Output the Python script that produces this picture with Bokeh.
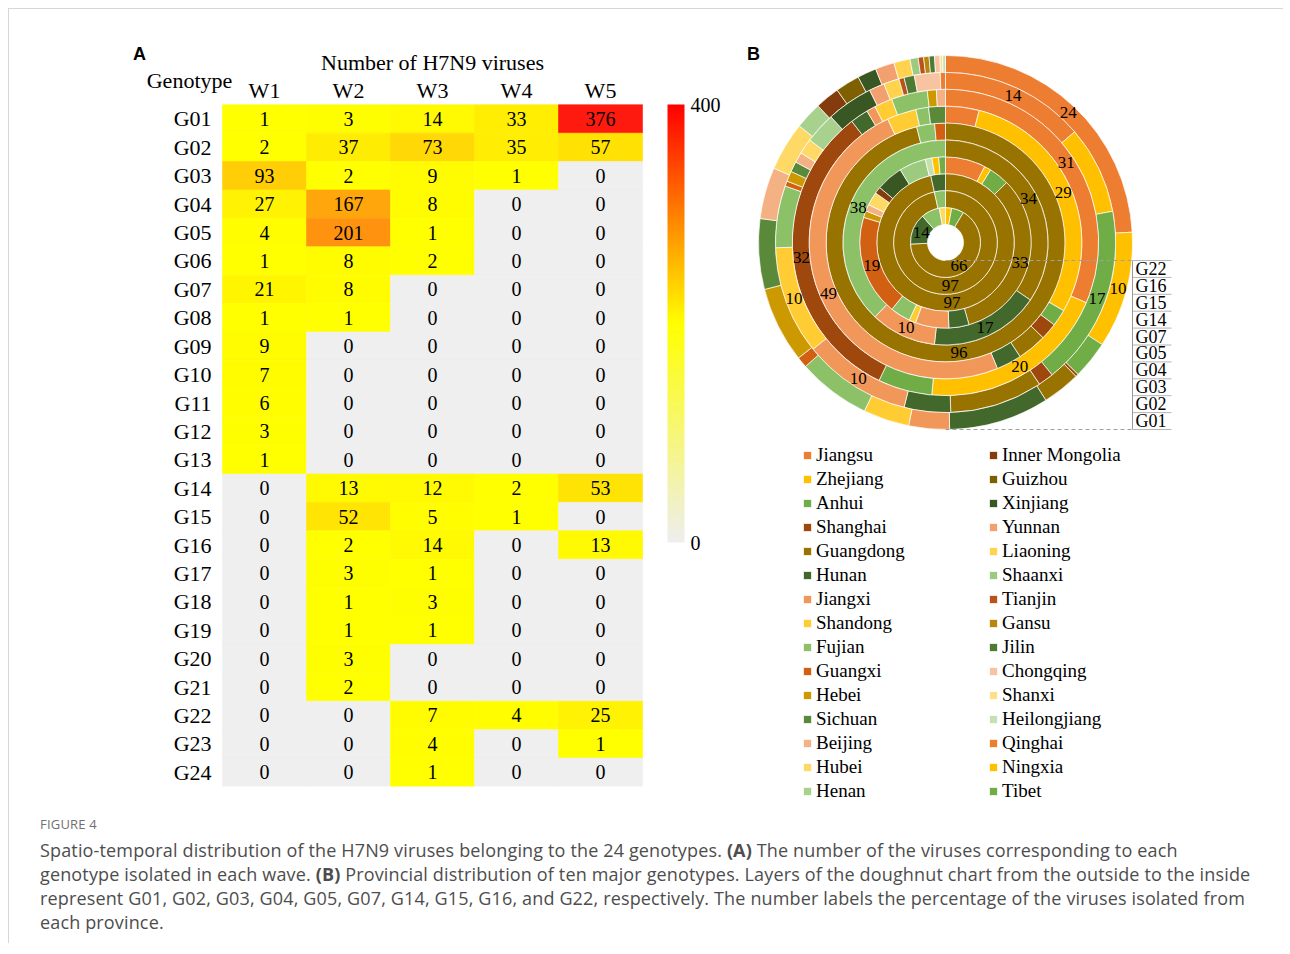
import numpy as np
from bokeh.plotting import figure
from bokeh.models import (ColumnDataSource, FactorRange, LinearColorMapper, ColorBar, FixedTicker,
                          Label, Legend, LegendItem, Range1d, Div)
from bokeh.layouts import row, column
from bokeh.transform import linear_cmap
from bokeh.core.properties import value
from bokeh.embed import file_html
from bokeh.resources import INLINE

SERIF = "Liberation Serif"

# ---------------- Panel A data ----------------
waves = ["W1", "W2", "W3", "W4", "W5"]
genotypes = [f"G{i:02d}" for i in range(1, 25)]
w1 = [1, 2, 93, 27, 4, 1, 21, 1, 9, 7, 6, 3, 1, 0, 0, 0, 0, 0, 0, 0, 0, 0, 0, 0]
w2 = [3, 37, 2, 167, 201, 8, 8, 1, 0, 0, 0, 0, 0, 13, 52, 2, 3, 1, 1, 3, 2, 0, 0, 0]
w3 = [14, 73, 9, 8, 1, 2, 0, 0, 0, 0, 0, 0, 0, 12, 5, 14, 1, 3, 1, 0, 0, 7, 4, 1]
w4 = [33, 35, 1, 0, 0, 0, 0, 0, 0, 0, 0, 0, 0, 2, 1, 0, 0, 0, 0, 0, 0, 4, 0, 0]
w5 = [376, 57, 0, 0, 0, 0, 0, 0, 0, 0, 0, 0, 0, 53, 0, 13, 0, 0, 0, 0, 0, 25, 1, 0]
bar_ticks = [0, 400]

# ---------------- Panel B data ----------------
provinces = ["Jiangsu", "Zhejiang", "Anhui", "Shanghai", "Guangdong", "Hunan", "Jiangxi",
             "Shandong", "Fujian", "Guangxi", "Hebei", "Sichuan", "Beijing", "Hubei", "Henan",
             "Inner Mongolia", "Guizhou", "Xinjiang", "Yunnan", "Liaoning", "Shaanxi", "Tianjin",
             "Gansu", "Jilin", "Chongqing", "Shanxi", "Heilongjiang", "Qinghai", "Ningxia", "Tibet"]
prov_colors = ["#ED7D31", "#FFC000", "#70AD47", "#9E480E", "#997300", "#43682B", "#F1975A",
               "#FFCD33", "#8CC168", "#D26012", "#CC9A00", "#5A8A39", "#F4B183", "#FFD966", "#A9D18E",
               "#843C0C", "#7F6000", "#385723", "#F3A070", "#FFD34D", "#9CCB80", "#B9531A",
               "#B8860B", "#4E7A32", "#F7C3A0", "#FFE08A", "#C5E0B4", "#ED7D31", "#FFC000", "#70AD47"]
ring_names = ["G01", "G02", "G03", "G04", "G05", "G07", "G14", "G15", "G16", "G22"]
#            Js  Zj  Ah Sh  Gd  Hn  Jx  Sd  Fj Gx  Hb  Sc  Bj  Hu  He IM Gz Xj Yn Ln Sx Tj Gs Jl Cq Sx Hl Qh Nx Tb
g01 = [103, 43, 14, 1, 14, 37, 15, 17, 27, 4, 28, 26, 19, 18, 10, 9, 9, 7, 7, 6, 3, 2, 2, 2, 2, 1, 1, 0, 0, 0]
g02 = [28, 17, 35, 3, 18, 9, 21, 21, 12, 1, 2, 2, 2, 3, 6, 0, 0, 9, 3, 3, 0, 1, 0, 2, 5, 0, 0, 1, 0, 0]
g03 = [33, 21, 6, 34, 0, 2, 1, 2, 4, 0, 1, 0, 1, 0, 0, 0, 0, 0, 0, 0, 0, 0, 0, 0, 0, 0, 0, 0, 0, 0]
g04 = [8, 59, 4, 4, 7, 6, 99, 7, 3, 0, 0, 4, 0, 0, 0, 0, 0, 0, 0, 0, 0, 0, 0, 0, 0, 0, 0, 0, 0, 0]
g05 = [0, 0, 0, 0, 198, 0, 0, 0, 5, 3, 0, 0, 0, 0, 0, 0, 0, 0, 0, 0, 0, 0, 0, 0, 0, 0, 0, 0, 0, 0]
g07 = [0, 0, 0, 0, 10, 5, 3, 0, 11, 0, 0, 0, 0, 0, 0, 0, 0, 0, 0, 0, 0, 0, 0, 0, 0, 0, 0, 0, 0, 0]
g14 = [6, 1, 3, 0, 26, 3, 5, 1, 3, 15, 1, 0, 1, 2, 0, 1, 0, 4, 0, 0, 4, 0, 0, 0, 0, 0, 1, 0, 1, 1]
g15 = [0, 0, 0, 0, 56, 2, 0, 0, 0, 0, 0, 0, 0, 0, 0, 0, 0, 0, 0, 0, 0, 0, 0, 0, 0, 0, 0, 0, 0, 0]
g16 = [0, 0, 0, 0, 28, 0, 0, 0, 1, 0, 0, 0, 0, 0, 0, 0, 0, 0, 0, 0, 0, 0, 0, 0, 0, 0, 0, 0, 0, 0]
g22 = [0, 1, 2, 0, 23, 5, 0, 0, 3, 0, 0, 0, 0, 1, 0, 0, 0, 0, 0, 0, 0, 0, 0, 0, 0, 0, 0, 0, 0, 0]
rings = [g01, g02, g03, g04, g05, g07, g14, g15, g16, g22]


def ramp(stops, n=256):
    def rgb(h):
        h = h.lstrip("#")
        return [int(h[i:i + 2], 16) for i in (0, 2, 4)]
    out = []
    for k in range(n):
        t = k / (n - 1)
        for (t0, c0), (t1, c1) in zip(stops[:-1], stops[1:]):
            if t0 <= t <= t1:
                f = (t - t0) / (t1 - t0) if t1 > t0 else 0
                a, b = rgb(c0), rgb(c1)
                c = [round(a[i] + (b[i] - a[i]) * f) for i in range(3)]
                out.append("#%02X%02X%02X" % tuple(c))
                break
    return out


# ================= Panel A: heatmap =================
xs, ys, vals = [], [], []
for w, col in zip(waves, [w1, w2, w3, w4, w5]):
    for g, v in zip(genotypes, col):
        xs.append(w)
        ys.append(g)
        vals.append(v)
src = ColumnDataSource(dict(wave=xs, geno=ys, count=vals, label=[str(v) for v in vals]))

# two blank columns on the left (row labels) and one on the right (colour bar),
# three blank rows on top (column header, title)
x_factors = ["lab1", "lab2"] + waves + ["bar"]
y_factors = genotypes[::-1] + ["hdr", "ttl", "top"]
pa = figure(width=732, height=800, x_range=FactorRange(*x_factors), y_range=FactorRange(*y_factors),
            x_axis_type=None, y_axis_type=None, title=None, toolbar_location=None,
            output_backend="svg", min_border_left=45, min_border_right=15, min_border_top=10,
            min_border_bottom=23)
pa.outline_line_color = None
pa.grid.visible = False
cell_cmap = linear_cmap("count", ramp([(0, "#FFFF00"), (0.55, "#FF9010"), (1, "#FF1A10")]),
                        low=1, high=376, low_color="#EFEFEF")
pa.rect("wave", "geno", 1, 1, source=src, fill_color=cell_cmap, line_color=cell_cmap, line_width=0.6)
pa.text("wave", "geno", text="label", source=src, text_align="center", text_baseline="middle",
        text_font=value(SERIF), text_font_size="20px", text_color="black")

# column header (W1..W5) and row header (G01..G24)
pa.text(x=waves, y=["hdr"] * len(waves), text=waves, text_align="center", text_baseline="middle",
        text_font=value(SERIF), text_font_size="22px", text_color="black")
pa.text(x=[1.87] * len(genotypes), y=genotypes, text=genotypes, text_align="right",
        text_baseline="middle", text_font=value(SERIF), text_font_size="22px", text_color="black")
pa.text(x=["W3"], y=["ttl"], text=["Number of H7N9 viruses"], text_align="center",
        text_baseline="middle", text_font=value(SERIF), text_font_size="22px", text_color="black")
pa.text(x=[1.607], y=[24.85], text=["Genotype"], text_align="center", text_baseline="middle",
        text_font=value(SERIF), text_font_size="22px", text_color="black")
pa.text(x=[1.012], y=[25.79], text=["A"], text_align="center", text_baseline="middle",
        text_font=value("Liberation Sans"), text_font_style="bold", text_font_size="18px",
        text_color="black")

bar_mapper = LinearColorMapper(palette=ramp([(0, "#EEEEEE"), (0.5, "#FFFF00"), (1, "#FF0000")]),
                               low=bar_ticks[0], high=bar_ticks[-1])
cb = ColorBar(color_mapper=bar_mapper, width=17, height=438, ticker=FixedTicker(ticks=bar_ticks),
              major_tick_line_color=None, minor_tick_line_color=None, bar_line_color=None,
              padding=0, margin=0, label_standoff=6, location=(613, 244),
              major_label_text_font=SERIF, major_label_text_font_size="20px",
              major_label_text_color="black", background_fill_alpha=0, border_line_color=None)
pa.add_layout(cb)

# ================= Panel B: doughnut =================
pb = figure(width=542, height=800, x_range=Range1d(-204, 338), y_range=Range1d(-567, 233),
            x_axis_type=None, y_axis_type=None, toolbar_location=None, output_backend="svg",
            min_border=0)
pb.outline_line_color = None
pb.grid.visible = False
for p_ in (pa, pb):
    try:
        p_.frame_align = False
    except Exception:
        pass

hole, outer = 18.0, 187.0
rw = (outer - hole) / len(rings)
per_prov = {p: dict(inner=[], outer=[], start=[], end=[]) for p in provinces}
lab = dict(x=[], y=[], text=[])
for i, counts in enumerate(rings):
    tot = float(sum(counts))
    r_out = outer - i * rw
    r_in = r_out - rw
    cum = 0
    for j, c in enumerate(counts):
        if c == 0:
            continue
        a0 = cum / tot * 2 * np.pi
        a1 = (cum + c) / tot * 2 * np.pi
        cum += c
        d = per_prov[provinces[j]]
        d["inner"].append(r_in)
        d["outer"].append(r_out)
        d["start"].append(np.pi / 2 - a0)
        d["end"].append(np.pi / 2 - a1)
        pct = round(100 * c / tot)
        if pct >= 10:
            am = (a0 + a1) / 2
            rm = (r_in + r_out) / 2
            lab["x"].append(rm * np.sin(am))
            lab["y"].append(rm * np.cos(am))
            lab["text"].append(str(pct))

renderers = {}
for p, col in zip(provinces, prov_colors):
    r = pb.annular_wedge(x=0, y=0, inner_radius="inner", outer_radius="outer",
                         start_angle="start", end_angle="end", direction="clock",
                         source=ColumnDataSource(per_prov[p]), fill_color=col,
                         line_color="#FFFFFF", line_width=0.7)
    renderers[p] = r

pb.text("x", "y", text="text", source=ColumnDataSource(lab), text_align="center",
        text_baseline="middle", text_font=value(SERIF), text_font_size="17px", text_color="black")

# ring guide + genotype box
bounds = [outer - k * rw for k in range(len(rings) + 1)]
pb.segment(x0=[0, 0], y0=[-hole, -outer], x1=[187, 187], y1=[-hole, -outer],
           line_color="#A0A0A0", line_dash="4 3", line_width=1)
pb.segment(x0=[187] * len(bounds), y0=[-b for b in bounds], x1=[226] * len(bounds),
           y1=[-b for b in bounds], line_color="#B5B5B5", line_width=1)
pb.segment(x0=[187], y0=[-hole], x1=[187], y1=[-outer], line_color="#9A9A9A", line_width=1)
pb.text(x=[190] * len(rings), y=[-(b - rw / 2) for b in bounds[:-1]], text=ring_names,
        text_align="left", text_baseline="middle", text_font=value(SERIF),
        text_font_size="18px", text_color="black")
pb.add_layout(Label(x=-192, y=189, text="B", text_align="center", text_baseline="middle",
                    text_font="Liberation Sans", text_font_style="bold", text_font_size="18px",
                    text_color="black"))

half = len(provinces) // 2
for k, (xloc, names) in enumerate([(61, provinces[:half]), (247, provinces[half:])]):
    leg = Legend(items=[LegendItem(label=n, renderers=[renderers[n]]) for n in names],
                 location=(xloc, 7), orientation="vertical", glyph_width=10, glyph_height=10,
                 label_standoff=4, padding=0, margin=0, spacing=2, label_height=21,
                 border_line_color=None, background_fill_alpha=0,
                 label_text_font=SERIF, label_text_font_size="19px", label_text_color="black")
    pb.add_layout(leg)

caption = (
    "<div style=\"font-family:'Open Sans';font-size:13px;color:#707070;letter-spacing:0.2px;"
    "margin-bottom:4px\">FIGURE 4</div>"
    "<div style=\"font-family:'Open Sans';font-size:18px;line-height:24px;color:#4d4d4d;"
    "letter-spacing:0.15px;white-space:nowrap\">"
    "Spatio-temporal distribution of the H7N9 viruses belonging to the 24 genotypes. <b>(A)</b> "
    "The number of the viruses corresponding to each<br>"
    "genotype isolated in each wave. <b>(B)</b> Provincial distribution of ten major genotypes. "
    "Layers of the doughnut chart from the outside to the inside<br>"
    "represent G01, G02, G03, G04, G05, G07, G14, G15, G16, and G22, respectively. "
    "The number labels the percentage of the viruses isolated from<br>"
    "each province.</div>")
div = Div(text=caption, width=1235, height=128, margin=(6, 0, 0, 31))

layout = column(row(pa, pb), div, margin=(8, 0, 0, 8),
                styles={"border-top": "1px solid #d6d6d6", "border-left": "1px solid #d6d6d6"})

open("out.html", "w").write(file_html(layout, INLINE))
